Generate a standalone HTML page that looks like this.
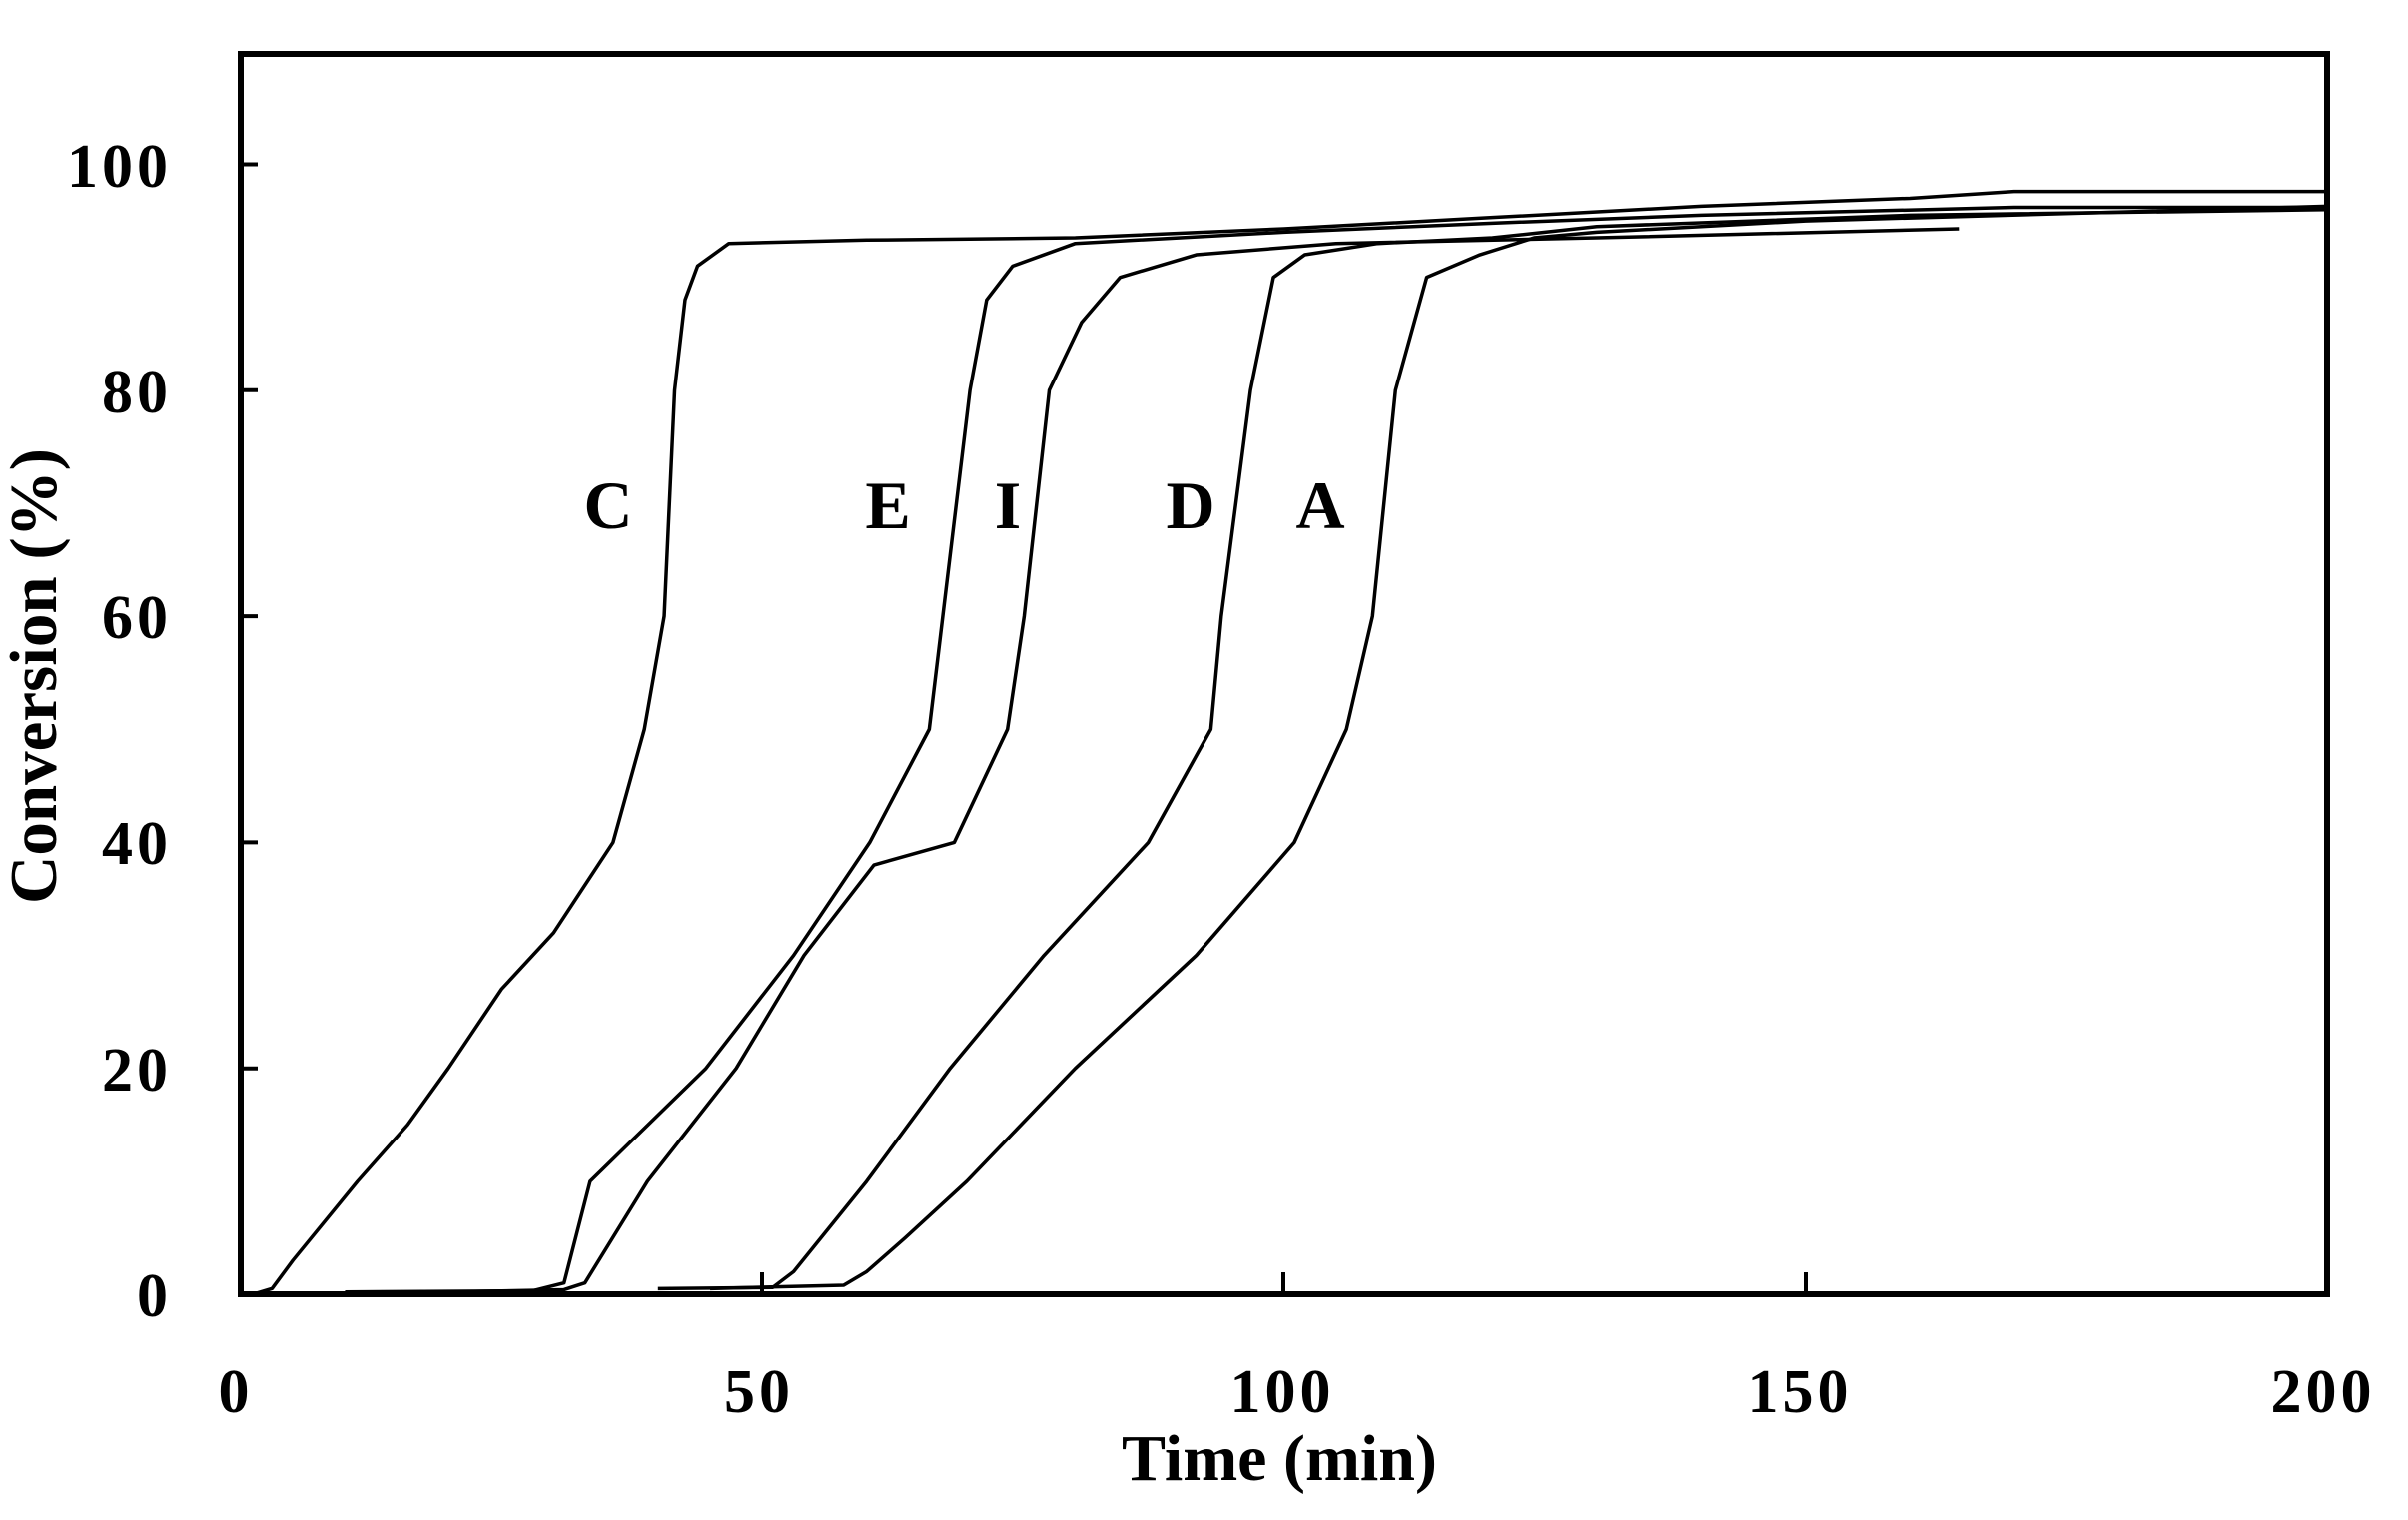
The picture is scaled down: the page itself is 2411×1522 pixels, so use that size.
<!DOCTYPE html>
<html><head><meta charset="utf-8"><style>
html,body{margin:0;padding:0;background:#fff;}
svg{display:block;}
text{font-family:"Liberation Serif",serif;font-weight:bold;fill:#000;}
</style></head><body>
<svg width="2411" height="1522" viewBox="0 0 2411 1522" xmlns="http://www.w3.org/2000/svg">
<rect x="241" y="54" width="2089" height="1242" fill="none" stroke="#000" stroke-width="6"/>
<g stroke="#000" stroke-width="4">
<line x1="241" y1="1069.7" x2="258" y2="1069.7"/>
<line x1="241" y1="843.4" x2="258" y2="843.4"/>
<line x1="241" y1="617.1" x2="258" y2="617.1"/>
<line x1="241" y1="390.8" x2="258" y2="390.8"/>
<line x1="241" y1="164.5" x2="258" y2="164.5"/>
<line x1="763" y1="1296" x2="763" y2="1274"/>
<line x1="1285" y1="1296" x2="1285" y2="1274"/>
<line x1="1808" y1="1296" x2="1808" y2="1274"/>
</g>
<g font-size="62" text-anchor="end" letter-spacing="4">
<text x="172" y="1318">0</text>
<text x="172" y="1092">20</text>
<text x="172" y="865">40</text>
<text x="172" y="639">60</text>
<text x="172" y="413">80</text>
<text x="172" y="187">100</text>
</g>
<g font-size="62" text-anchor="middle" letter-spacing="4">
<text x="236" y="1414">0</text>
<text x="760" y="1414">50</text>
<text x="1284" y="1414">100</text>
<text x="1802" y="1414">150</text>
<text x="2326" y="1414">200</text>
</g>
<text x="1281" y="1482" font-size="66" text-anchor="middle">Time (min)</text>
<text transform="translate(56,677) rotate(-90)" font-size="67" text-anchor="middle">Conversion (%)</text>
<g font-size="68" text-anchor="middle">
<text x="609" y="529">C</text>
<text x="889" y="529">E</text>
<text x="1009" y="529">I</text>
<text x="1192" y="529">D</text>
<text x="1322" y="529">A</text>
</g>
<g transform="translate(241,1296) scale(10.445,-11.315)" fill="none" stroke="#000" stroke-width="3.5" stroke-linejoin="round">
<polyline vector-effect="non-scaling-stroke" points="1.2,0 3,0.5 5,3 11.2,10 16,15 19.9,20 25,27 30,32 35.7,40 38.7,50 40.6,60 41.6,80 42.6,88 43.8,91 46.8,93 60,93.3 80,93.5 100,94.3 120,95.3 140,96.3 160,97 170,97.6 200,97.6"/>
<polyline vector-effect="non-scaling-stroke" points="10,0.2 28,0.3 31,1 33.5,10 44.6,20 53,30 60.3,40 66,50 67.3,60 69.9,80 71.5,88 74,91 80,93 100,94 120,94.8 140,95.5 170,96.2 200,96.2"/>
<polyline vector-effect="non-scaling-stroke" points="20,0.2 31,0.4 33,1 39,10 47.5,20 54,30 60.7,38 68.4,40 73.5,50 75.1,60 77.5,80 80.6,86 84.3,90 91.6,92 105,93 130,93.5 164.7,94.3"/>
<polyline vector-effect="non-scaling-stroke" points="40,0.5 51,0.6 53,2 60,10 68,20 77,30 87,40 93,50 94,60 96.8,80 99,90 102,92 109,93 120,93.5 130,94.5 160,95.5 200,96"/>
<polyline vector-effect="non-scaling-stroke" points="45,0.5 57.8,0.8 60,2 63.7,5 69.6,10 80,20 91.6,30 101,40 106,50 108.5,60 110.7,80 113.7,90 118.8,92 124,93.5 130,94 150,95 200,96.3"/>
<polyline vector-effect="non-scaling-stroke" points="5,0 60,0"/>
</g>
</svg>
</body></html>
